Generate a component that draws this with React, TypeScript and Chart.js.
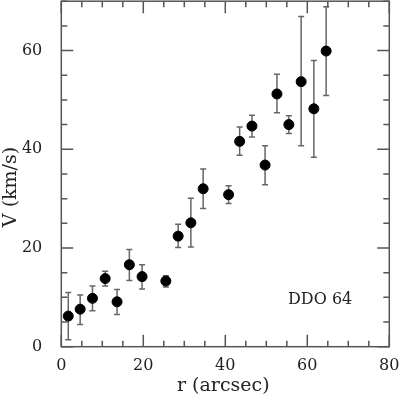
import React, { useEffect, useRef } from "react";
import { Chart, registerables } from "chart.js";

Chart.register(...registerables);

const radius = [1.7, 4.6, 7.6, 10.7, 13.6, 16.6, 19.7, 25.5, 28.5, 31.6, 34.6, 40.8, 43.5, 46.5, 49.7, 52.6, 55.5, 58.5, 61.6, 64.6];
const velocity = [6.2, 7.6, 9.8, 13.8, 9.1, 16.6, 14.2, 13.3, 22.4, 25.1, 32.0, 30.8, 41.6, 44.7, 36.8, 51.2, 45.0, 53.7, 48.2, 59.9];
const velocityHigh = [11.0, 10.5, 12.3, 15.3, 11.6, 19.7, 16.6, 14.4, 24.8, 30.1, 36.0, 32.6, 44.5, 46.9, 40.7, 55.2, 46.8, 66.9, 58.0, 68.9];
const velocityLow = [1.4, 4.5, 7.3, 12.3, 6.5, 13.4, 11.7, 12.1, 20.1, 20.2, 28.0, 29.0, 38.8, 42.5, 32.8, 47.4, 43.2, 40.7, 38.4, 50.9];
const xTickLabels = [0, 20, 40, 60, 80];
const yTickLabels = [0, 20, 40, 60];
const galaxyLabel = "DDO 64";
const xTitle = "r (arcsec)";
const yTitle = "V (km/s)";

const FONT = "'DejaVu Serif', serif";
const AXIS_COLOR = "#555";
const TEXT_COLOR = "#222";

export default function App() {
  const ref = useRef<HTMLCanvasElement | null>(null);
  useEffect(() => {
    document.body.style.margin = "0";
    const canvas = ref.current!;
    const zeroPad = (s: any) => {
      s.paddingLeft = 0;
      s.paddingRight = 0;
      s.paddingTop = 0;
      s.paddingBottom = 0;
    };
    const errorBars = {
      id: "errorBars",
      beforeDatasetsDraw(chart: any) {
        const { ctx, scales } = chart;
        const xs = scales.x, ys = scales.y;
        ctx.save();
        ctx.strokeStyle = "#666";
        ctx.lineWidth = 1.5;
        for (let i = 0; i < radius.length; i++) {
          const px = xs.getPixelForValue(radius[i]);
          const pTop = ys.getPixelForValue(velocityHigh[i]);
          const pBot = ys.getPixelForValue(velocityLow[i]);
          ctx.beginPath();
          ctx.moveTo(px, pTop);
          ctx.lineTo(px, pBot);
          ctx.moveTo(px - 3, pTop);
          ctx.lineTo(px + 3, pTop);
          ctx.moveTo(px - 3, pBot);
          ctx.lineTo(px + 3, pBot);
          ctx.stroke();
        }
        ctx.restore();
      },
      afterDraw(chart: any) {
        const { ctx, scales, chartArea } = chart;
        const xs = scales.x, ys = scales.y;
        const { left, right, top, bottom } = chartArea;
        ctx.save();
        ctx.strokeStyle = AXIS_COLOR;
        ctx.lineWidth = 1.5;
        ctx.strokeRect(left, top, right - left, bottom - top);
        ctx.beginPath();
        for (let v = 0; v <= 80; v += 5) {
          const px = xs.getPixelForValue(v);
          const len = v % 20 === 0 ? 12 : 6;
          ctx.moveTo(px, bottom);
          ctx.lineTo(px, bottom - len);
          ctx.moveTo(px, top);
          ctx.lineTo(px, top + len);
        }
        for (let v = 0; v <= 70; v += 5) {
          const py = ys.getPixelForValue(v);
          const len = v % 20 === 0 ? 12 : 6;
          ctx.moveTo(left, py);
          ctx.lineTo(left + len, py);
          ctx.moveTo(right, py);
          ctx.lineTo(right - len, py);
        }
        ctx.stroke();
        ctx.fillStyle = TEXT_COLOR;
        ctx.font = `16px ${FONT}`;
        ctx.textAlign = "left";
        ctx.textBaseline = "middle";
        ctx.fillText(galaxyLabel, xs.getPixelForValue(55.3), ys.getPixelForValue(9.5));
        // axis titles
        ctx.font = `19px ${FONT}`;
        ctx.textAlign = "center";
        ctx.textBaseline = "middle";
        ctx.fillText(xTitle, (left + right) / 2 - 2, 386);
        ctx.save();
        ctx.translate(11.5, 187);
        ctx.rotate(-Math.PI / 2);
        ctx.fillText(yTitle, 0, 0);
        ctx.restore();
        ctx.restore();
      },
    };
    const chart = new Chart(canvas, {
      type: "scatter",
      data: {
        datasets: [
          {
            data: radius.map((r, i) => ({ x: r, y: velocity[i] })),
            backgroundColor: "#000",
            borderColor: "#000",
            pointRadius: 5,
            pointHoverRadius: 5,
            clip: false,
          },
        ],
      },
      options: {
        animation: false,
        responsive: false,
        events: [],
        layout: { autoPadding: false, padding: { left: 0, right: 10.7, top: 1.2, bottom: 0 } },
        plugins: { legend: { display: false }, tooltip: { enabled: false } },
        scales: {
          x: {
            type: "linear",
            min: 0,
            max: 80,
            border: { display: false },
            grid: { display: false },
            afterBuildTicks: (s: any) => {
              s.ticks = xTickLabels.map((v) => ({ value: v }));
            },
            afterFit: (s: any) => {
              s.height = 51.3;
              zeroPad(s);
            },
            ticks: {
              font: { family: FONT, size: 16 },
              color: TEXT_COLOR,
              padding: 2,
              maxRotation: 0,
            },
          },
          y: {
            type: "linear",
            min: 0,
            max: 70,
            border: { display: false },
            grid: { display: false },
            afterBuildTicks: (s: any) => {
              s.ticks = yTickLabels.map((v) => ({ value: v }));
            },
            afterFit: (s: any) => {
              s.width = 61.3;
              zeroPad(s);
            },
            ticks: {
              font: { family: FONT, size: 16 },
              color: TEXT_COLOR,
              padding: 11,
            },
          },
        },
      },
      plugins: [errorBars],
    });
    return () => chart.destroy();
  }, []);
  return (
    <div style={{ position: "absolute", left: 0, top: 0, width: 400, height: 398 }}>
      <canvas ref={ref} width={400} height={398} style={{ width: 400, height: 398 }} />
    </div>
  );
}
